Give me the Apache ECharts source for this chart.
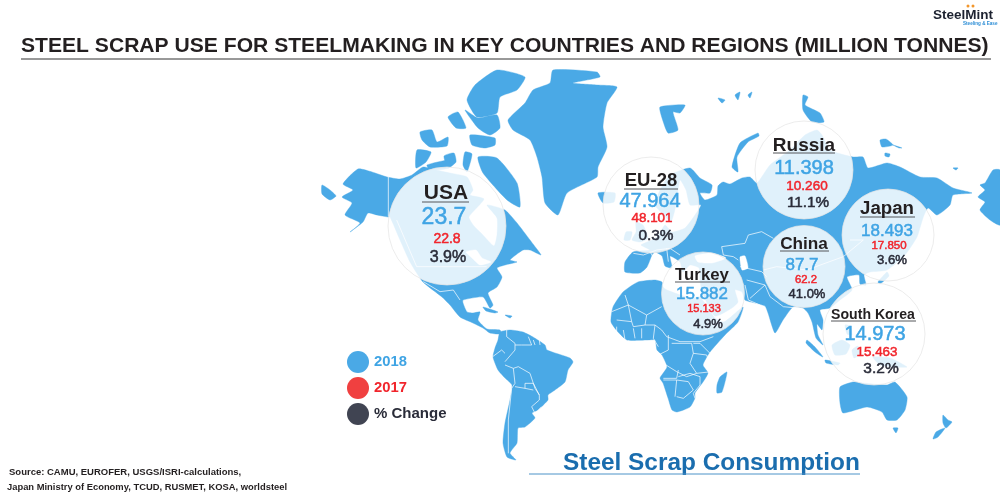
<!DOCTYPE html>
<html><head><meta charset="utf-8">
<style>html,body{margin:0;padding:0;background:#fff}#c{width:1000px;height:499px}</style>
<script src="https://cdn.jsdelivr.net/npm/echarts@6/dist/echarts.min.js"></script>
</head><body><div id="c"></div>
<script>
// ---- chart values ----
const regions = ['USA','EU-28','Russia','Japan','China','Turkey','South Korea'];
const v2018   = ['23.7','47.964','11.398','18.493','87.7','15.882','14.973'];
const v2017   = ['22.8','48.101','10.260','17.850','62.2','15.133','15.463'];
const change  = ['3.9%','0.3%','11.1%','3.6%','41.0%','4.9%','3.2%'];

// ---- bubble placement (image space) ----
const bubbleCentres = [[447,226],[651,205],[804,170],[888,235],[804,266.5],[703,293.5],[874,334]];
const bubbleRadii   = [59,48,49,46,41,41.5,51];
// each line: [x, y, fontSize]
const titleLines  = [[446,193,21],[651,181,18.5],[804,146,19],[887,209,18.7],[804,244,17.2],[702,275,16.8],[873,315,14.1]];
const line2018    = [[444,218,23],[650,201,20],[804,168,20],[887,231,17],[802,265,17],[702,294,17],[875,334,20]];
const line2017    = [[447,239,14],[652,218,13.4],[807,186,13.5],[889,246,11.5],[806,280,11.3],[704,309,11],[877,352,13.4]];
const lineChange  = [[448,258,16],[656,236,15.4],[808,203,15.3],[892,260,13.2],[807,294,13],[708,324,13],[881,369,15.5]];
const underlines  = [[422,469,202],[624,678,189],[773,835,153],[860,915,217],[780,829,251],[675,730,282],[831,916,321]];

// ---- geography, traced in image space ----
const northAmerica = [[343,184],[358,169],[372,172],[387,177],[400,179],[412,175],[423,167],[436,170],[450,173],[467,177],[473,190],[470,195],[484,199],[469,217],[474,226],[482,234],[494,246],[497,235],[497,218],[487,205],[505,210],[517,223],[530,240],[533,244],[541,255],[530,250],[523,250],[510,260],[517,262],[505,265],[497,268],[502,277],[497,287],[488,293],[493,305],[490,308],[483,297],[463,300],[463,303],[467,312],[473,313],[480,312],[478,320],[487,329],[500,330],[501,334],[490,333],[483,328],[473,323],[460,317],[450,305],[442,297],[423,282],[410,262],[400,240],[390,217],[388,217],[377,215],[368,213],[363,222],[350,232],[360,223],[345,215],[352,203],[342,197],[353,190]];
const arcticIslands = [
 [[475,85],[497,70],[525,77],[517,90],[500,97],[497,113],[477,117],[467,100]],
 [[478,157],[497,158],[517,183],[520,207],[507,200],[483,173]],
 [[465,110],[478,118],[497,115],[500,128],[490,135],[478,128]],
 [[470,135],[495,138],[495,145],[485,148],[472,145]],
 [[420,132],[432,130],[437,142],[448,137],[447,146],[430,147],[422,140]],
 [[417,150],[431,152],[426,162],[416,168]],
 [[444,156],[454,153],[456,162],[448,168]],
 [[427,165],[450,160],[449,168],[430,170]],
 [[448,117],[458,112],[466,128],[456,128]],
 [[465,152],[472,154],[467,172],[463,165]]
];
const greenland = [[553,70],[597,72],[600,77],[573,83],[597,85],[617,87],[607,103],[603,127],[607,147],[598,167],[597,177],[567,193],[558,215],[545,203],[542,177],[537,157],[530,140],[513,130],[508,120],[525,103],[533,90],[550,83]];
const southAmerica = [[500,332],[510,330],[523,332],[533,337],[545,345],[547,350],[570,358],[573,362],[568,370],[565,382],[555,390],[548,395],[548,400],[538,410],[532,413],[535,418],[525,427],[518,428],[517,443],[510,453],[516,460],[507,457],[503,443],[505,423],[510,400],[512,385],[505,378],[498,370],[493,357],[495,348],[498,340]];
const africa = [[623,292],[638,282],[655,280],[662,282],[663,287],[667,290],[690,298],[700,297],[715,318],[724,322],[743,307],[738,322],[725,335],[710,352],[703,365],[708,373],[703,382],[695,393],[695,398],[690,407],[677,412],[672,410],[668,398],[663,383],[660,378],[667,367],[662,355],[657,350],[655,340],[647,340],[627,340],[618,332],[611,322],[613,307]];
const eurasia = [[700,280],[699,268],[690,265],[683,272],[680,262],[670,256],[672,268],[665,266],[662,256],[655,252],[652,255],[647,267],[640,273],[625,272],[625,262],[633,252],[650,250],[641,245],[652,240],[658,236],[665,225],[672,232],[685,228],[695,215],[701,205],[690,205],[686,190],[680,180],[676,205],[671,222],[664,215],[655,205],[660,190],[670,175],[690,168],[700,178],[712,185],[710,193],[700,193],[705,200],[717,195],[718,186],[723,182],[730,184],[742,178],[750,177],[757,183],[770,165],[790,150],[805,135],[817,130],[822,135],[830,150],[853,157],[863,157],[868,168],[887,163],[900,167],[920,177],[937,178],[953,188],[972,193],[953,195],[950,205],[937,215],[928,208],[923,218],[917,237],[905,255],[887,270],[870,272],[864,275],[866,285],[860,284],[859,275],[847,277],[852,290],[840,300],[830,308],[820,310],[823,320],[822,330],[817,324],[818,335],[823,345],[816,338],[812,322],[808,313],[803,308],[793,307],[783,320],[775,333],[768,313],[765,306],[755,303],[745,300],[742,292],[735,290],[738,302],[732,308],[715,316],[702,292]];
const asiaPacific = [
 [[727,372],[722,392],[717,393],[717,385],[720,377]],
 [[636,222],[643,225],[648,238],[640,242],[632,240],[636,232]],
 [[626,232],[632,232],[630,240],[624,240]],
 [[598,193],[615,193],[614,202],[603,203]],
 [[660,107],[685,105],[680,113],[673,112],[678,130],[668,133],[662,118]],
 [[758,133],[740,143],[732,167],[738,172],[737,157],[748,142],[759,136]],
 [[803,95],[808,97],[805,105],[820,113],[824,122],[812,122],[803,110]],
 [[880,140],[886,139],[893,145],[882,147]],
 [[885,153],[890,154],[889,157],[885,156]],
 [[893,145],[902,148],[899,148]],
 [[953,168],[958,168],[956,170]],
 [[718,98],[725,100],[722,103]],
 [[735,95],[740,92],[738,100]],
 [[748,95],[752,92],[750,98]],
 [[807,340],[815,347],[823,357],[815,352],[806,343]],
 [[825,360],[840,363],[838,365],[826,363]],
 [[832,345],[842,340],[850,345],[846,354],[835,355]],
 [[845,325],[850,326],[852,335],[847,334]],
 [[852,350],[858,346],[860,354],[854,358]],
 [[873,357],[890,358],[907,367],[895,367],[880,365]],
 [[878,282],[887,272],[889,276],[880,284]],
 [[911,212],[919,218],[916,232],[908,240],[912,225]],
 [[895,248],[906,243],[900,258],[892,262]],
 [[483,307],[498,312],[495,313],[486,311]],
 [[505,315],[512,316],[510,318]],
 [[840,387],[853,382],[863,383],[887,385],[895,382],[907,397],[905,410],[897,420],[887,420],[882,412],[867,407],[843,413],[840,403]],
 [[893,428],[898,428],[896,433]],
 [[943,415],[948,420],[952,422],[946,428],[943,423]],
 [[945,428],[938,437],[933,439],[936,432]],
 [[1000,170],[993,170],[985,183],[980,185],[985,190],[978,197],[985,202],[980,210],[990,220],[1000,225]],
 [[322,185],[330,190],[336,196],[330,200],[322,194]]
];
const waters = [
 [[740,257],[745,256],[748,268],[742,270]],
 [[695,256],[712,253],[726,258],[712,263],[698,262]],
 [[466,252],[476,250],[482,258],[491,262],[480,265],[472,258]]
];
// border paths noted as crop coordinates [originX, originY, [x,y,x,y...]]
const borderCrops = [
 [480,320,[80,30,80,50,105,70,105,90,75,125]],[480,320,[75,135,100,145,115,140,150,160,165,205,178,225,178,240,155,260]],
 [480,320,[100,145,105,190,95,205,85,300,85,400]],[480,320,[105,200,135,205,160,210]],[480,320,[135,205,135,190,160,190,178,225]],
 [480,320,[38,110,65,90,75,100]],[480,320,[145,50,155,75,125,75,105,75]],[480,320,[160,60,165,75]],[480,320,[178,60,180,75]],[480,320,[155,260,165,280,185,260]],
 [600,240,[35,215,85,195,140,225,185,200]],[600,240,[75,165,85,195,95,245,50,240]],[600,240,[140,225,135,255,100,260,95,245]],
 [600,240,[50,260,50,290]],[600,240,[70,270,75,300]],[600,240,[100,265,105,295]],[600,240,[125,265,125,295]],
 [600,240,[135,255,165,255,185,270,200,290]],[600,240,[165,255,160,295,175,320]],[600,240,[200,290,240,305,300,305,340,290]],
 [600,240,[205,285,205,330,175,345]],[600,240,[215,310,275,310,280,340,270,370,290,400,260,410,230,395,190,370]],
 [600,240,[280,340,320,345,335,395,290,400]],[600,240,[280,310,300,310,330,340]],
 [450,270,[640,325,680,325,685,300]],[450,270,[640,330,680,330,675,380]],[450,270,[680,330,715,335,730,360,700,385,680,380]],
 [450,270,[685,320,720,310,750,320,750,345,730,370,735,385]],
 [690,190,[95,170,100,195,130,200,145,210]],[690,190,[95,170,165,160,175,135,215,125,250,145]],[690,190,[150,230,215,245,230,260]],
 [690,190,[170,270,225,285,180,325]],[690,190,[165,285,175,330,210,345]],[690,190,[225,285,240,320,280,350,330,355]],
 [660,60,[310,630,350,620,440,630,550,590,610,540,570,540]],
 [600,240,[100,40,130,45,170,30,210,25,240,45]],[600,240,[150,35,170,70]],[600,240,[200,25,205,65]],
 [320,60,[205,350,205,470]],[320,60,[310,665,360,695,400,690,420,720]],[320,60,[230,480,290,620,500,620]]
];

// ---- styling ----
const LAND = '#4aa9e6', BLUE = '#3fa4e4', RED = '#f1252c', DARK = '#2a2c39', INK = '#231f20';
const FONT = '"Liberation Sans", Arial, sans-serif';

const landShapes = [northAmerica, greenland, southAmerica, africa, eurasia, ...arcticIslands, ...asiaPacific];
const borderPaths = borderCrops.map(([ox, oy, flat]) => {
  const pts = [];
  for (let i = 0; i < flat.length; i += 2) pts.push([ox + flat[i] / 3, oy + flat[i + 1] / 3]);
  return pts;
});
const coordsOf = (api, pts) => pts.map(p => api.coord(p));

function polySeries(name, shapes, fill, z) {
  return { type: 'custom', name, silent: true, z, coordinateSystem: 'cartesian2d',
    data: shapes.map((_, i) => [i]),
    renderItem: (params, api) => ({ type: 'polygon', shape: { points: coordsOf(api, shapes[params.dataIndex]), smooth: 0.18 },
      style: { fill, stroke: fill, lineWidth: 0.4 } }) };
}
function lineSeries(name, paths, stroke, width, z) {
  return { type: 'custom', name, silent: true, z, coordinateSystem: 'cartesian2d',
    data: paths.map((_, i) => [i]),
    renderItem: (params, api) => ({ type: 'polyline', shape: { points: coordsOf(api, paths[params.dataIndex]) },
      style: { fill: 'none', stroke, lineWidth: width } }) };
}
function textSeries(name, texts, lines, color, weight, embolden) {
  return { type: 'scatter', name, silent: true, z: 6, symbolSize: 0, itemStyle: { color, opacity: 1 },
    data: texts.map((t, i) => ({ value: [lines[i][0], lines[i][1]],
      label: { show: true, position: 'inside', formatter: t, color,
        fontFamily: FONT, fontWeight: weight, fontSize: lines[i][2],
        textBorderColor: embolden ? color : 'transparent', textBorderWidth: embolden ? 0.5 : 0 } })) };
}

const option = {
  animation: false,
  backgroundColor: '#fff',
  grid: { left: 0, right: 0, top: 0, bottom: 0 },
  xAxis: { type: 'value', min: 0, max: 1000, show: false },
  yAxis: { type: 'value', min: 0, max: 499, inverse: true, show: false },
  title: { text: 'STEEL SCRAP USE FOR STEELMAKING IN KEY COUNTRIES AND REGIONS (MILLION TONNES)', left: 21, top: 36, padding: 0,
    textStyle: { fontFamily: FONT, fontWeight: 'bold', fontSize: 21.1, color: INK } },
  legend: { orient: 'vertical', left: 347, top: 351, padding: 0, itemWidth: 22, itemHeight: 22, itemGap: 4, selectedMode: false, icon: 'circle',
    data: [
      { name: '2018', itemStyle: { color: LAND, opacity: 1 }, textStyle: { color: BLUE, fontFamily: FONT, fontWeight: 'bold', fontSize: 14.8 } },
      { name: '2017', itemStyle: { color: '#f04040', opacity: 1 }, textStyle: { color: RED, fontFamily: FONT, fontWeight: 'bold', fontSize: 14.8 } },
      { name: '% Change', itemStyle: { color: '#404452', opacity: 1 }, textStyle: { color: DARK, fontFamily: FONT, fontWeight: 'bold', fontSize: 15 } }
    ] },
  graphic: { elements: [
    { type: 'line', silent: true, shape: { x1: 21, y1: 59, x2: 991, y2: 59 }, style: { stroke: '#333', lineWidth: 1 } },
    { type: 'text', left: 563, top: 451, silent: true, style: { text: 'Steel Scrap Consumption', fontFamily: FONT, fontWeight: 'bold', fontSize: 24.4, fill: '#1a6dae' } },
    { type: 'line', silent: true, shape: { x1: 529, y1: 474, x2: 860, y2: 474 }, style: { stroke: '#4c93c8', lineWidth: 1 } },
    { type: 'text', left: 9, top: 467, silent: true, style: { text: 'Source: CAMU, EUROFER, USGS/ISRI-calculations,', fontFamily: FONT, fontWeight: 'bold', fontSize: 9.5, fill: INK } },
    { type: 'text', left: 7, top: 483, silent: true, style: { text: 'Japan Ministry of Economy, TCUD, RUSMET, KOSA, worldsteel', fontFamily: FONT, fontWeight: 'bold', fontSize: 9.4, fill: INK } },
    { type: 'text', left: 933, top: 8, silent: true, style: { text: 'SteelMint', fontFamily: FONT, fontWeight: 'bold', fontSize: 13.5, fill: '#1d2230' } },
    { type: 'text', left: 963, top: 21, silent: true, style: { text: 'Steeling & Ease', fontFamily: FONT, fontWeight: 'bold', fontSize: 4.6, fill: '#2f8fd6' } },
    { type: 'circle', silent: true, shape: { cx: 968, cy: 6, r: 1.5 }, style: { fill: '#f2962b' } },
    { type: 'circle', silent: true, shape: { cx: 973, cy: 6, r: 1.5 }, style: { fill: '#f2962b' } }
  ] },
  series: [
    polySeries('Land', landShapes, LAND, 1),
    polySeries('Water', waters, '#ffffff', 2),
    lineSeries('Borders', borderPaths, '#ffffff', 0.7, 3),
    { type: 'scatter', name: 'Regions', silent: true, z: 4,
      data: bubbleCentres.map((c, i) => ({ value: c, symbolSize: bubbleRadii[i] * 2 })),
      itemStyle: { color: 'rgba(255,255,255,0.83)', borderColor: 'rgba(228,228,228,0.9)', borderWidth: 0.8, opacity: 1 } },
    lineSeries('Underlines', underlines.map(u => [[u[0], u[2]], [u[1], u[2]]]), '#55565a', 1, 5),
    textSeries('Region', regions, titleLines, INK, 'bold', false),
    textSeries('2018', v2018, line2018, BLUE, 'normal', true),
    textSeries('2017', v2017, line2017, RED, 'normal', true),
    textSeries('% Change', change, lineChange, DARK, 'normal', true)
  ]
};
echarts.init(document.getElementById('c'), null, { renderer: 'canvas' }).setOption(option);
</script></body></html>
